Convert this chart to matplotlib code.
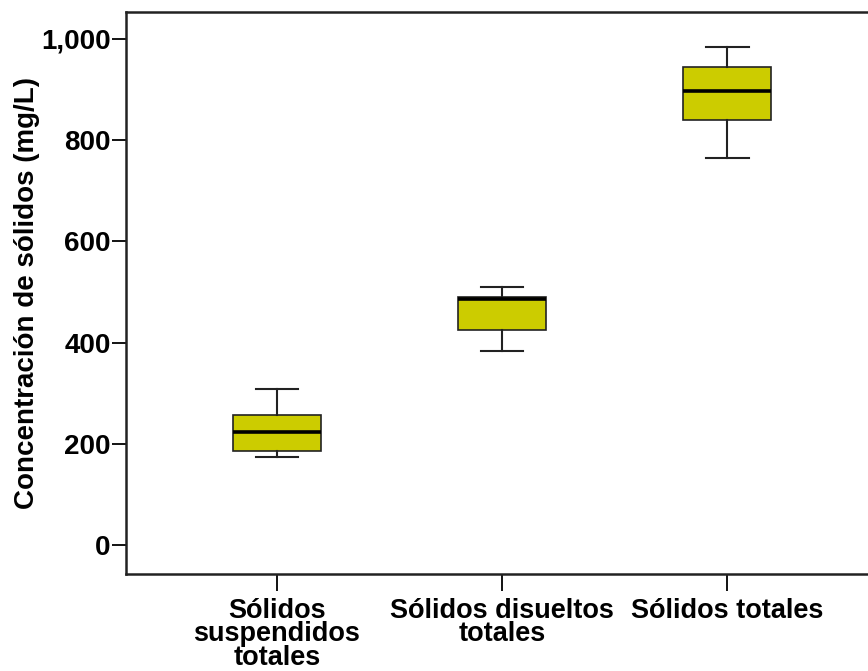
import matplotlib.pyplot as plt

plt.rcParams['font.family'] = ['Liberation Sans', 'DejaVu Sans']
plt.rcParams['font.weight'] = 'bold'

# valores (mg/L)
categorias = ['Sólidos\nsuspendidos\ntotales', 'Sólidos disueltos\ntotales', 'Sólidos totales']
bigote_inf = [174, 384, 764]
q1 = [186, 424, 840]
mediana = [223, 486, 896]
q3 = [257, 491, 945]
bigote_sup = [308, 510, 984]

stats = []
for i in range(len(categorias)):
    stats.append({'whislo': bigote_inf[i], 'q1': q1[i], 'med': mediana[i],
                  'q3': q3[i], 'whishi': bigote_sup[i], 'fliers': []})

fig = plt.figure(figsize=(8.68, 6.71), dpi=100)
ax = fig.add_axes([0.1452, 0.1446, 0.8664, 0.8375])

ax.bxp(stats, positions=[1, 2, 3], widths=0.39, patch_artist=True,
       showfliers=False,
       boxprops=dict(facecolor='#cccc00', edgecolor='#222222', linewidth=1.2),
       medianprops=dict(color='black', linewidth=2.6),
       whiskerprops=dict(color='#222222', linewidth=1.5),
       capprops=dict(color='#222222', linewidth=1.5),
       capwidths=0.19)

ax.set_xlim(0.33, 3.67)
ax.set_ylim(-57, 1053)
ax.set_yticks([0, 200, 400, 600, 800, 1000])
ax.set_yticklabels(['0', '200', '400', '600', '800', '1,000'])
ax.set_xticks([1, 2, 3])
ax.set_xticklabels(categorias, linespacing=0.88)
ax.tick_params(axis='y', labelsize=20, length=10, width=1.3, pad=1)
ax.tick_params(axis='x', labelsize=19.5, length=12, width=1.3, pad=5)
for s in ax.spines.values():
    s.set_linewidth(1.8)
    s.set_color('#222222')
ax.set_ylabel('Concentración de sólidos (mg/L)', fontsize=20, fontweight='bold', labelpad=1)

fig.savefig('out.png', dpi=100)
